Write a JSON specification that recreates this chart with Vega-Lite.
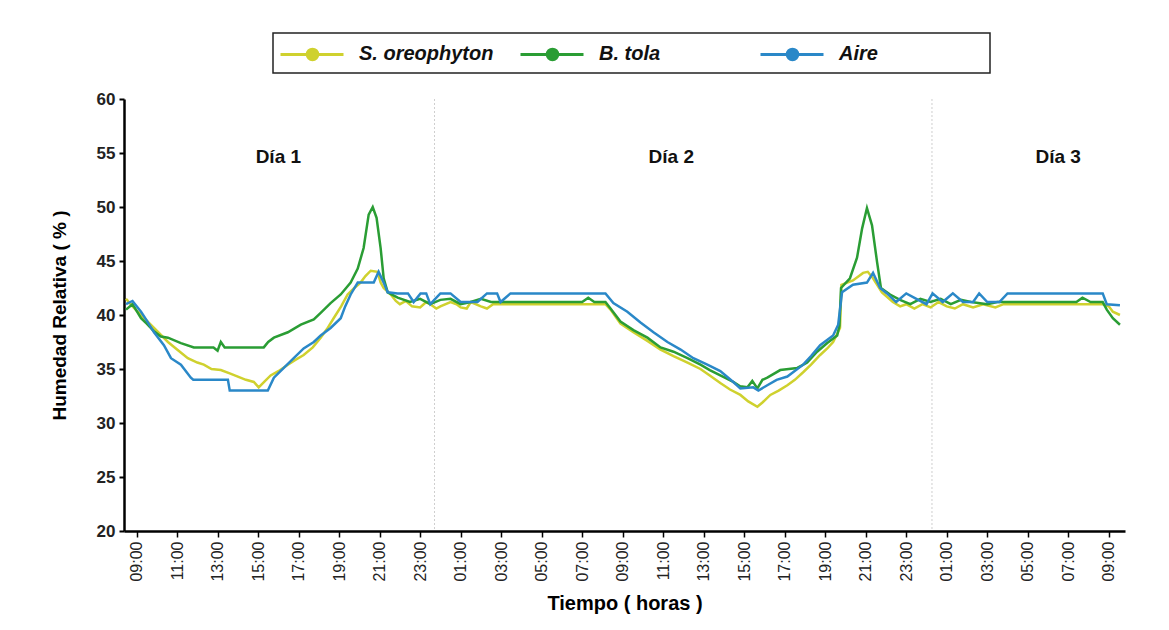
{
  "$schema": "https://vega.github.io/schema/vega-lite/v6.json",
  "width": 1001,
  "height": 432,
  "autosize": "none",
  "padding": {"left": 124, "top": 99, "right": 44, "bottom": 99},
  "background": "white",
  "config": {"view": {"stroke": null}, "font": "Liberation Sans"},
  "datasets": {
    "dias": [{"horas": 23.71}, {"horas": 48.27}],
    "etiquetas": [
      {"horas": 16.0, "hr": 54.6, "dia": "Día 1"},
      {"horas": 35.4, "hr": 54.6, "dia": "Día 2"},
      {"horas": 54.5, "hr": 54.6, "dia": "Día 3"}
    ],
    "lineas": [
      {"serie":"S. oreophyton","horas":8.48,"hr":41.5},{"serie":"S. oreophyton","horas":8.8,"hr":40.8},{"serie":"S. oreophyton","horas":9.22,"hr":40.0},{"serie":"S. oreophyton","horas":9.86,"hr":38.8},{"serie":"S. oreophyton","horas":10.55,"hr":37.5},{"serie":"S. oreophyton","horas":11.0,"hr":36.8},{"serie":"S. oreophyton","horas":11.53,"hr":36.0},{"serie":"S. oreophyton","horas":12.0,"hr":35.6},{"serie":"S. oreophyton","horas":12.32,"hr":35.4},{"serie":"S. oreophyton","horas":12.7,"hr":35.0},{"serie":"S. oreophyton","horas":13.16,"hr":34.9},{"serie":"S. oreophyton","horas":13.6,"hr":34.6},{"serie":"S. oreophyton","horas":14.0,"hr":34.3},{"serie":"S. oreophyton","horas":14.4,"hr":34.0},{"serie":"S. oreophyton","horas":14.79,"hr":33.8},{"serie":"S. oreophyton","horas":15.03,"hr":33.3},{"serie":"S. oreophyton","horas":15.3,"hr":33.8},{"serie":"S. oreophyton","horas":15.62,"hr":34.4},{"serie":"S. oreophyton","horas":16.0,"hr":34.8},{"serie":"S. oreophyton","horas":16.47,"hr":35.4},{"serie":"S. oreophyton","horas":16.8,"hr":35.8},{"serie":"S. oreophyton","horas":17.25,"hr":36.3},{"serie":"S. oreophyton","horas":17.7,"hr":37.0},{"serie":"S. oreophyton","horas":18.09,"hr":37.9},{"serie":"S. oreophyton","horas":18.4,"hr":38.7},{"serie":"S. oreophyton","horas":18.73,"hr":39.7},{"serie":"S. oreophyton","horas":19.1,"hr":40.8},{"serie":"S. oreophyton","horas":19.42,"hr":41.9},{"serie":"S. oreophyton","horas":19.75,"hr":42.5},{"serie":"S. oreophyton","horas":20.06,"hr":43.0},{"serie":"S. oreophyton","horas":20.3,"hr":43.6},{"serie":"S. oreophyton","horas":20.56,"hr":44.1},{"serie":"S. oreophyton","horas":20.9,"hr":44.0},{"serie":"S. oreophyton","horas":21.05,"hr":43.0},{"serie":"S. oreophyton","horas":21.2,"hr":42.5},{"serie":"S. oreophyton","horas":21.55,"hr":41.9},{"serie":"S. oreophyton","horas":21.8,"hr":41.3},{"serie":"S. oreophyton","horas":22.0,"hr":41.0},{"serie":"S. oreophyton","horas":22.3,"hr":41.3},{"serie":"S. oreophyton","horas":22.6,"hr":40.8},{"serie":"S. oreophyton","horas":23.0,"hr":40.7},{"serie":"S. oreophyton","horas":23.3,"hr":41.2},{"serie":"S. oreophyton","horas":23.5,"hr":41.0},{"serie":"S. oreophyton","horas":23.8,"hr":40.6},{"serie":"S. oreophyton","horas":24.0,"hr":40.8},{"serie":"S. oreophyton","horas":24.5,"hr":41.2},{"serie":"S. oreophyton","horas":24.8,"hr":41.0},{"serie":"S. oreophyton","horas":25.0,"hr":40.7},{"serie":"S. oreophyton","horas":25.3,"hr":40.6},{"serie":"S. oreophyton","horas":25.5,"hr":41.2},{"serie":"S. oreophyton","horas":26.0,"hr":40.8},{"serie":"S. oreophyton","horas":26.3,"hr":40.6},{"serie":"S. oreophyton","horas":26.6,"hr":41.0},{"serie":"S. oreophyton","horas":29.0,"hr":41.0},{"serie":"S. oreophyton","horas":32.15,"hr":41.0},{"serie":"S. oreophyton","horas":32.4,"hr":40.5},{"serie":"S. oreophyton","horas":32.89,"hr":39.2},{"serie":"S. oreophyton","horas":33.53,"hr":38.4},{"serie":"S. oreophyton","horas":34.22,"hr":37.6},{"serie":"S. oreophyton","horas":34.87,"hr":36.8},{"serie":"S. oreophyton","horas":35.51,"hr":36.2},{"serie":"S. oreophyton","horas":36.2,"hr":35.6},{"serie":"S. oreophyton","horas":36.84,"hr":35.0},{"serie":"S. oreophyton","horas":37.3,"hr":34.4},{"serie":"S. oreophyton","horas":37.82,"hr":33.7},{"serie":"S. oreophyton","horas":38.3,"hr":33.1},{"serie":"S. oreophyton","horas":38.81,"hr":32.6},{"serie":"S. oreophyton","horas":39.2,"hr":32.0},{"serie":"S. oreophyton","horas":39.65,"hr":31.5},{"serie":"S. oreophyton","horas":39.9,"hr":31.9},{"serie":"S. oreophyton","horas":40.29,"hr":32.6},{"serie":"S. oreophyton","horas":40.7,"hr":33.0},{"serie":"S. oreophyton","horas":41.13,"hr":33.5},{"serie":"S. oreophyton","horas":41.5,"hr":34.0},{"serie":"S. oreophyton","horas":41.91,"hr":34.7},{"serie":"S. oreophyton","horas":42.3,"hr":35.4},{"serie":"S. oreophyton","horas":42.75,"hr":36.3},{"serie":"S. oreophyton","horas":43.1,"hr":36.9},{"serie":"S. oreophyton","horas":43.39,"hr":37.5},{"serie":"S. oreophyton","horas":43.73,"hr":38.8},{"serie":"S. oreophyton","horas":43.8,"hr":42.8},{"serie":"S. oreophyton","horas":44.37,"hr":43.2},{"serie":"S. oreophyton","horas":44.87,"hr":43.9},{"serie":"S. oreophyton","horas":45.1,"hr":44.0},{"serie":"S. oreophyton","horas":45.36,"hr":43.4},{"serie":"S. oreophyton","horas":45.8,"hr":42.1},{"serie":"S. oreophyton","horas":46.34,"hr":41.2},{"serie":"S. oreophyton","horas":46.7,"hr":40.8},{"serie":"S. oreophyton","horas":47.0,"hr":41.0},{"serie":"S. oreophyton","horas":47.4,"hr":40.6},{"serie":"S. oreophyton","horas":47.8,"hr":41.0},{"serie":"S. oreophyton","horas":48.2,"hr":40.7},{"serie":"S. oreophyton","horas":48.6,"hr":41.2},{"serie":"S. oreophyton","horas":49.0,"hr":40.8},{"serie":"S. oreophyton","horas":49.4,"hr":40.6},{"serie":"S. oreophyton","horas":49.8,"hr":41.0},{"serie":"S. oreophyton","horas":50.3,"hr":40.7},{"serie":"S. oreophyton","horas":50.8,"hr":41.0},{"serie":"S. oreophyton","horas":51.4,"hr":40.7},{"serie":"S. oreophyton","horas":51.8,"hr":41.0},{"serie":"S. oreophyton","horas":55.0,"hr":41.0},{"serie":"S. oreophyton","horas":56.7,"hr":41.0},{"serie":"S. oreophyton","horas":57.0,"hr":40.8},{"serie":"S. oreophyton","horas":57.2,"hr":40.3},{"serie":"S. oreophyton","horas":57.55,"hr":40.0},
      {"serie":"B. tola","horas":8.48,"hr":40.5},{"serie":"B. tola","horas":8.8,"hr":41.0},{"serie":"B. tola","horas":9.22,"hr":39.7},{"serie":"B. tola","horas":9.5,"hr":39.2},{"serie":"B. tola","horas":9.86,"hr":38.5},{"serie":"B. tola","horas":10.2,"hr":38.0},{"serie":"B. tola","horas":10.55,"hr":37.9},{"serie":"B. tola","horas":11.19,"hr":37.4},{"serie":"B. tola","horas":11.83,"hr":37.0},{"serie":"B. tola","horas":12.8,"hr":37.0},{"serie":"B. tola","horas":13.0,"hr":36.7},{"serie":"B. tola","horas":13.16,"hr":37.5},{"serie":"B. tola","horas":13.35,"hr":37.0},{"serie":"B. tola","horas":15.28,"hr":37.0},{"serie":"B. tola","horas":15.5,"hr":37.5},{"serie":"B. tola","horas":15.78,"hr":37.9},{"serie":"B. tola","horas":16.47,"hr":38.4},{"serie":"B. tola","horas":17.11,"hr":39.1},{"serie":"B. tola","horas":17.75,"hr":39.6},{"serie":"B. tola","horas":18.09,"hr":40.2},{"serie":"B. tola","horas":18.58,"hr":41.1},{"serie":"B. tola","horas":19.08,"hr":41.9},{"serie":"B. tola","horas":19.57,"hr":43.0},{"serie":"B. tola","horas":19.92,"hr":44.3},{"serie":"B. tola","horas":20.21,"hr":46.2},{"serie":"B. tola","horas":20.46,"hr":49.3},{"serie":"B. tola","horas":20.66,"hr":50.0},{"serie":"B. tola","horas":20.85,"hr":49.0},{"serie":"B. tola","horas":21.05,"hr":46.2},{"serie":"B. tola","horas":21.2,"hr":43.4},{"serie":"B. tola","horas":21.4,"hr":42.1},{"serie":"B. tola","horas":21.89,"hr":41.6},{"serie":"B. tola","horas":22.5,"hr":41.2},{"serie":"B. tola","horas":23.0,"hr":41.5},{"serie":"B. tola","horas":23.5,"hr":41.0},{"serie":"B. tola","horas":24.0,"hr":41.4},{"serie":"B. tola","horas":24.5,"hr":41.5},{"serie":"B. tola","horas":25.0,"hr":41.0},{"serie":"B. tola","horas":25.5,"hr":41.2},{"serie":"B. tola","horas":26.0,"hr":41.5},{"serie":"B. tola","horas":26.5,"hr":41.2},{"serie":"B. tola","horas":29.0,"hr":41.2},{"serie":"B. tola","horas":31.0,"hr":41.2},{"serie":"B. tola","horas":31.3,"hr":41.6},{"serie":"B. tola","horas":31.6,"hr":41.2},{"serie":"B. tola","horas":32.15,"hr":41.2},{"serie":"B. tola","horas":32.4,"hr":40.6},{"serie":"B. tola","horas":32.89,"hr":39.4},{"serie":"B. tola","horas":33.53,"hr":38.6},{"serie":"B. tola","horas":34.22,"hr":37.9},{"serie":"B. tola","horas":34.87,"hr":37.0},{"serie":"B. tola","horas":35.51,"hr":36.6},{"serie":"B. tola","horas":36.2,"hr":36.0},{"serie":"B. tola","horas":36.84,"hr":35.4},{"serie":"B. tola","horas":37.3,"hr":34.9},{"serie":"B. tola","horas":37.82,"hr":34.4},{"serie":"B. tola","horas":38.46,"hr":33.8},{"serie":"B. tola","horas":38.8,"hr":33.4},{"serie":"B. tola","horas":39.16,"hr":33.3},{"serie":"B. tola","horas":39.4,"hr":33.9},{"serie":"B. tola","horas":39.65,"hr":33.2},{"serie":"B. tola","horas":39.9,"hr":34.0},{"serie":"B. tola","horas":40.14,"hr":34.2},{"serie":"B. tola","horas":40.78,"hr":34.9},{"serie":"B. tola","horas":41.2,"hr":35.0},{"serie":"B. tola","horas":41.62,"hr":35.1},{"serie":"B. tola","horas":42.11,"hr":35.6},{"serie":"B. tola","horas":42.6,"hr":36.6},{"serie":"B. tola","horas":43.1,"hr":37.4},{"serie":"B. tola","horas":43.59,"hr":38.1},{"serie":"B. tola","horas":43.7,"hr":39.0},{"serie":"B. tola","horas":43.78,"hr":42.5},{"serie":"B. tola","horas":44.22,"hr":43.4},{"serie":"B. tola","horas":44.57,"hr":45.3},{"serie":"B. tola","horas":44.82,"hr":48.0},{"serie":"B. tola","horas":45.06,"hr":49.9},{"serie":"B. tola","horas":45.31,"hr":48.3},{"serie":"B. tola","horas":45.56,"hr":44.9},{"serie":"B. tola","horas":45.75,"hr":42.5},{"serie":"B. tola","horas":46.2,"hr":41.9},{"serie":"B. tola","horas":46.69,"hr":41.4},{"serie":"B. tola","horas":47.2,"hr":41.0},{"serie":"B. tola","horas":47.7,"hr":41.5},{"serie":"B. tola","horas":48.2,"hr":41.2},{"serie":"B. tola","horas":48.7,"hr":41.5},{"serie":"B. tola","horas":49.2,"hr":41.0},{"serie":"B. tola","horas":49.7,"hr":41.4},{"serie":"B. tola","horas":50.2,"hr":41.2},{"serie":"B. tola","horas":51.0,"hr":41.0},{"serie":"B. tola","horas":51.5,"hr":41.2},{"serie":"B. tola","horas":55.4,"hr":41.2},{"serie":"B. tola","horas":55.7,"hr":41.6},{"serie":"B. tola","horas":56.1,"hr":41.2},{"serie":"B. tola","horas":56.7,"hr":41.2},{"serie":"B. tola","horas":56.9,"hr":40.5},{"serie":"B. tola","horas":57.2,"hr":39.7},{"serie":"B. tola","horas":57.55,"hr":39.1},
      {"serie":"Aire","horas":8.48,"hr":41.0},{"serie":"Aire","horas":8.8,"hr":41.3},{"serie":"Aire","horas":9.22,"hr":40.3},{"serie":"Aire","horas":9.5,"hr":39.5},{"serie":"Aire","horas":9.86,"hr":38.4},{"serie":"Aire","horas":10.35,"hr":37.2},{"serie":"Aire","horas":10.7,"hr":36.0},{"serie":"Aire","horas":11.19,"hr":35.4},{"serie":"Aire","horas":11.68,"hr":34.2},{"serie":"Aire","horas":11.8,"hr":34.0},{"serie":"Aire","horas":13.51,"hr":34.0},{"serie":"Aire","horas":13.6,"hr":33.0},{"serie":"Aire","horas":15.48,"hr":33.0},{"serie":"Aire","horas":15.78,"hr":34.2},{"serie":"Aire","horas":16.27,"hr":35.1},{"serie":"Aire","horas":16.76,"hr":36.0},{"serie":"Aire","horas":17.25,"hr":36.9},{"serie":"Aire","horas":17.75,"hr":37.5},{"serie":"Aire","horas":18.09,"hr":38.1},{"serie":"Aire","horas":18.58,"hr":38.8},{"serie":"Aire","horas":19.08,"hr":39.7},{"serie":"Aire","horas":19.3,"hr":40.8},{"serie":"Aire","horas":19.57,"hr":41.9},{"serie":"Aire","horas":19.92,"hr":43.0},{"serie":"Aire","horas":20.71,"hr":43.0},{"serie":"Aire","horas":20.95,"hr":44.0},{"serie":"Aire","horas":21.2,"hr":43.0},{"serie":"Aire","horas":21.4,"hr":42.1},{"serie":"Aire","horas":21.89,"hr":42.0},{"serie":"Aire","horas":22.4,"hr":42.0},{"serie":"Aire","horas":22.68,"hr":41.2},{"serie":"Aire","horas":23.02,"hr":42.0},{"serie":"Aire","horas":23.3,"hr":42.0},{"serie":"Aire","horas":23.5,"hr":41.0},{"serie":"Aire","horas":24.0,"hr":42.0},{"serie":"Aire","horas":24.5,"hr":42.0},{"serie":"Aire","horas":25.0,"hr":41.2},{"serie":"Aire","horas":25.83,"hr":41.2},{"serie":"Aire","horas":26.3,"hr":42.0},{"serie":"Aire","horas":26.8,"hr":42.0},{"serie":"Aire","horas":26.97,"hr":41.2},{"serie":"Aire","horas":27.46,"hr":42.0},{"serie":"Aire","horas":29.5,"hr":42.0},{"serie":"Aire","horas":32.15,"hr":42.0},{"serie":"Aire","horas":32.54,"hr":41.1},{"serie":"Aire","horas":33.23,"hr":40.3},{"serie":"Aire","horas":33.88,"hr":39.3},{"serie":"Aire","horas":34.52,"hr":38.4},{"serie":"Aire","horas":35.21,"hr":37.5},{"serie":"Aire","horas":35.86,"hr":36.8},{"serie":"Aire","horas":36.49,"hr":36.0},{"serie":"Aire","horas":37.18,"hr":35.4},{"serie":"Aire","horas":37.82,"hr":34.8},{"serie":"Aire","horas":38.46,"hr":33.8},{"serie":"Aire","horas":38.81,"hr":33.2},{"serie":"Aire","horas":39.45,"hr":33.3},{"serie":"Aire","horas":39.7,"hr":33.0},{"serie":"Aire","horas":40.14,"hr":33.5},{"serie":"Aire","horas":40.6,"hr":34.0},{"serie":"Aire","horas":41.13,"hr":34.3},{"serie":"Aire","horas":41.91,"hr":35.4},{"serie":"Aire","horas":42.3,"hr":36.2},{"serie":"Aire","horas":42.75,"hr":37.2},{"serie":"Aire","horas":43.39,"hr":38.1},{"serie":"Aire","horas":43.64,"hr":39.1},{"serie":"Aire","horas":43.83,"hr":42.1},{"serie":"Aire","horas":44.37,"hr":42.8},{"serie":"Aire","horas":45.06,"hr":43.0},{"serie":"Aire","horas":45.36,"hr":43.9},{"serie":"Aire","horas":45.71,"hr":42.5},{"serie":"Aire","horas":46.05,"hr":42.0},{"serie":"Aire","horas":46.5,"hr":41.2},{"serie":"Aire","horas":47.0,"hr":42.0},{"serie":"Aire","horas":47.5,"hr":41.5},{"serie":"Aire","horas":48.0,"hr":41.0},{"serie":"Aire","horas":48.3,"hr":42.0},{"serie":"Aire","horas":48.8,"hr":41.2},{"serie":"Aire","horas":49.3,"hr":42.0},{"serie":"Aire","horas":49.8,"hr":41.2},{"serie":"Aire","horas":50.3,"hr":41.2},{"serie":"Aire","horas":50.6,"hr":42.0},{"serie":"Aire","horas":51.0,"hr":41.2},{"serie":"Aire","horas":51.6,"hr":41.2},{"serie":"Aire","horas":52.0,"hr":42.0},{"serie":"Aire","horas":54.0,"hr":42.0},{"serie":"Aire","horas":56.7,"hr":42.0},{"serie":"Aire","horas":56.9,"hr":41.0},{"serie":"Aire","horas":57.55,"hr":40.9}
    ]
  },
  "layer": [
    {
      "data": {"name": "dias"},
      "mark": {"type": "rule", "color": "#cfcfcf", "strokeWidth": 1, "strokeDash": [2, 2]},
      "encoding": {
        "x": {
          "field": "horas", "type": "quantitative",
          "scale": {"domain": [8.38, 57.8], "nice": false, "zero": false},
          "axis": {
            "title": "Tiempo ( horas )",
            "values": [9,10,11,12,13,14,15,16,17,18,19,20,21,22,23,24,25,26,27,28,29,30,31,32,33,34,35,36,37,38,39,40,41,42,43,44,45,46,47,48,49,50,51,52,53,54,55,56,57],
            "labelExpr": "datum.value % 2 == 1 ? ((datum.value % 24) < 10 ? '0' : '') + (datum.value % 24) + ':00' : ''",
            "labelAngle": 270, "labelAlign": "right", "labelBaseline": "middle",
            "labelFontSize": 16, "labelColor": "#222222", "labelPadding": 4, "labelOverlap": false, "labelFlush": false,
            "tickSize": 6, "tickWidth": 1.5, "tickColor": "black",
            "domainColor": "black", "domainWidth": 2.5, "grid": false,
            "titleFontSize": 20, "titleFontWeight": "bold", "titleColor": "black", "titlePadding": 12
          }
        }
      }
    },
    {
      "data": {"name": "lineas"},
      "mark": {"type": "line", "strokeWidth": 2.5},
      "encoding": {
        "x": {
          "field": "horas", "type": "quantitative",
          "scale": {"domain": [8.38, 57.8], "nice": false, "zero": false},
          "axis": {
            "title": "Tiempo ( horas )",
            "values": [9,10,11,12,13,14,15,16,17,18,19,20,21,22,23,24,25,26,27,28,29,30,31,32,33,34,35,36,37,38,39,40,41,42,43,44,45,46,47,48,49,50,51,52,53,54,55,56,57],
            "labelExpr": "datum.value % 2 == 1 ? ((datum.value % 24) < 10 ? '0' : '') + (datum.value % 24) + ':00' : ''",
            "labelAngle": 270, "labelAlign": "right", "labelBaseline": "middle",
            "labelFontSize": 16, "labelColor": "#222222", "labelPadding": 4, "labelOverlap": false, "labelFlush": false,
            "tickSize": 6, "tickWidth": 1.5, "tickColor": "black",
            "domainColor": "black", "domainWidth": 2.5, "grid": false,
            "titleFontSize": 20, "titleFontWeight": "bold", "titleColor": "black", "titlePadding": 12
          }
        },
        "y": {
          "field": "hr", "type": "quantitative",
          "scale": {"domain": [20, 60], "nice": false, "zero": false},
          "axis": {
            "title": "Humedad Relativa ( % )",
            "values": [20, 25, 30, 35, 40, 45, 50, 55, 60],
            "labelFontSize": 17, "labelFontWeight": "bold", "labelColor": "#222222", "labelPadding": 4,
            "tickSize": 5, "tickWidth": 2, "tickColor": "black",
            "domainColor": "black", "domainWidth": 2.5, "grid": false,
            "titleFontSize": 19, "titleFontWeight": "bold", "titleColor": "black", "titlePadding": 27
          }
        },
        "color": {
          "field": "serie", "type": "nominal",
          "sort": ["S. oreophyton", "B. tola", "Aire"],
          "scale": {"domain": ["S. oreophyton", "B. tola", "Aire"], "range": ["#cfd12e", "#2a9d34", "#2a88c8"]},
          "legend": {
            "title": "\u00a0", "titleOrient": "right", "titlePadding": 105, "titleFontSize": 6,
            "orient": "none", "legendX": 149, "legendY": -66,
            "direction": "horizontal", "columns": 3, "gridAlign": "all", "columnPadding": 20,
            "padding": 7, "strokeColor": "#222222",
            "symbolType": "M-1.08,0L1.06,0M1.9,0L3.96,0M1.9,0A0.42,0.42,0,1,1,1.06,0A0.42,0.42,0,1,1,1.9,0Z",
            "symbolSize": 625, "symbolStrokeWidth": 3,
            "labelFont": "Liberation Sans", "labelFontSize": 20, "labelFontStyle": "italic", "labelFontWeight": "bold",
            "labelColor": "#111111", "labelOffset": 51, "labelLimit": 300,
            "encode": {
              "symbols": {"update": {"fill": {"scale": "color", "field": "value"}, "fillOpacity": {"value": 1}}},
              "legend": {"update": {"strokeWidth": {"value": 1.5}}}
            }
          }
        }
      }
    },
    {
      "data": {"name": "etiquetas"},
      "mark": {"type": "text", "fontSize": 19, "fontWeight": "bold", "color": "#111111", "align": "center", "baseline": "middle"},
      "encoding": {
        "x": {"field": "horas", "type": "quantitative", "scale": {"domain": [8.38, 57.8], "nice": false, "zero": false}},
        "y": {"field": "hr", "type": "quantitative", "scale": {"domain": [20, 60], "nice": false, "zero": false}},
        "text": {"field": "dia"}
      }
    }
  ]
}
